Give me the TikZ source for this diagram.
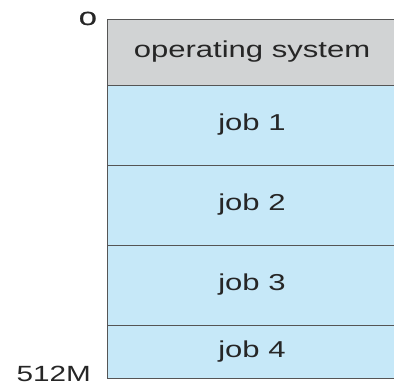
\documentclass[tikz,border=0pt]{standalone}
\usepackage{fontspec}
\setmainfont{Liberation Sans}
\newfontfamily\memfont[FakeStretch=1.35]{Liberation Sans}
\newfontfamily\zerofont[FakeStretch=1.7,FakeBold=1.2]{Liberation Sans}
\usetikzlibrary{positioning}

\definecolor{osgray}{RGB}{209,211,212}
\definecolor{jobblue}{RGB}{198,232,248}
\definecolor{edgegray}{RGB}{85,85,85}

\tikzset{
  block/.style={draw=edgegray, line width=0.9bp, minimum width=290bp, inner sep=0pt, outer sep=0pt,
    font=\memfont\fontsize{23bp}{27bp}\selectfont, text=black!85},
  osblock/.style={block, fill=osgray, minimum height=66bp},
  jobblock/.style={block, fill=jobblue, minimum height=80bp},
  addr/.style={inner sep=0pt, text=black!85}
}

\begin{document}
\begin{tikzpicture}[x=1bp,y=-1bp,node distance=0pt]
			\useasboundingbox (0,0) rectangle (394,385);
			\node[osblock] (os) at (252,52) {operating system};
			\node[jobblock] [below=of os] (job_1) {job 1};
			\node[jobblock] [below=of job_1] (job_2) {job 2};
			\node[jobblock] [below=of job_2] (job_3) {job 3};
			\node[jobblock, minimum height=53bp] [below=of job_3] (job_4) {job 4};
			\node[addr, font=\zerofont\fontsize{19bp}{22bp}\selectfont, anchor=base east] (top)
				at ([xshift=-10bp,yshift=-6bp]os.north west) {0};
			\node[addr, font=\memfont\fontsize{22bp}{26bp}\selectfont, anchor=base east] (bottom)
				at ([xshift=-16bp,yshift=-3bp]job_4.south west) {512M};
		\end{tikzpicture}
\end{document}
